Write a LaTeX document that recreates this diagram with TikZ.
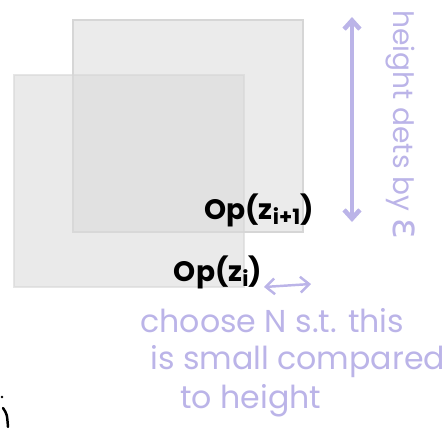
\documentclass[tikz,border=0pt]{standalone}
\usepackage{fontspec}
\setmainfont{Poppins}
\newfontfamily\greekfont{DejaVu Sans}
\usepackage{tikz}
\usetikzlibrary{arrows.meta, positioning}
\definecolor{sketchgray}{RGB}{214,214,214}
\definecolor{sheetgray}{RGB}{235,235,235}
\definecolor{lavender}{RGB}{187,180,232}
\newcommand{\lowidx}[1]{\raisebox{-3pt}{\fontsize{12}{12}\selectfont #1}}

\begin{document}
\begin{tikzpicture}[x=0.02cm, y=-0.02cm,
        sheet/.style={rectangle, draw=sketchgray, line width=1.6pt, inner sep=0pt,
                      minimum width=4.6cm, minimum height=4.24cm},
        oplabel/.style={font=\fontsize{16}{16}\selectfont\bfseries, text=black, inner sep=0pt},
        note/.style={font=\fontsize{18}{18}\selectfont, text=lavender, inner sep=0pt, anchor=west},
        gaparrow/.style={draw=lavender, {Straight Barb[length=5pt, width=9pt]}-{Straight Barb[length=5pt, width=9pt]}},
      ]
      \useasboundingbox (0,0) rectangle (447,427);
      % the two overlapping sheets
      \node[sheet, fill=sheetgray] (back) at (188,126) {};
      \node[sheet, fill=black!14, fill opacity=0.58, draw opacity=0.6] (front) at (129,181) {};
      \node[oplabel] (opnext) at (259,210) {Op(z\lowidx{i+1})};
      \node[oplabel] (opcur) at (218,272) {Op(z\lowidx{i})};
      % height of the sheets
      \coordinate (top) at (352,17);
      \coordinate (bottom) at (352,222);
      \draw[gaparrow, line width=2.6pt] (top) -- (bottom);
      \node[note, anchor=center, rotate=-90, font=\fontsize{16}{16}\selectfont] (heightnote) at (401,125)
        {height dets by {\greekfont\fontsize{22}{22}\selectfont ε}};
      % shift between them
      \coordinate (gapleft) at (264,287);
      \coordinate (gapright) at (311,284);
      \draw[gaparrow, line width=1.4pt] (gapleft) -- (gapright);
      \node[note] (choose) at (140,321) {choose N s.t. this};
      \node[note] (small) at (150,362) {is small compared};
      \node[note] (toheight) at (180,401) {to height};
      % stray pen mark
      \fill (2,397) circle (1.3);
      \draw[line width=1.4pt, line cap=round] (3,408) .. controls (7,414) .. (8,427);
    \end{tikzpicture}
\end{document}
